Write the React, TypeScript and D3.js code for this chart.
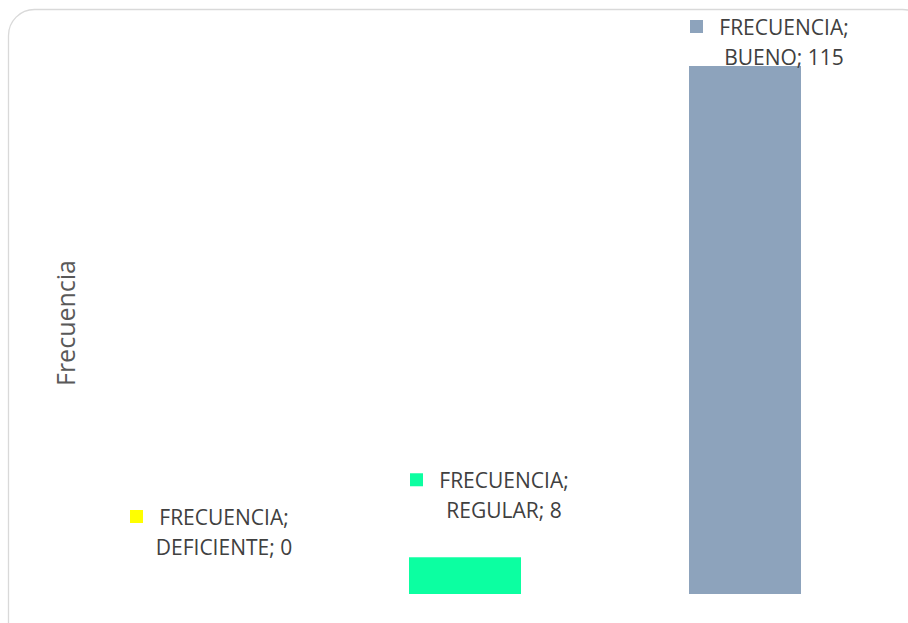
import React from "react";
import * as d3 from "d3";

const categories = ["DEFICIENTE", "REGULAR", "BUENO"];
const values = [0, 8, 115];
const seriesName = "FRECUENCIA";
const axisTitle = "Frecuencia";
const colors = ["#FFFF00", "#0CFFA1", "#8DA3BC"];

const W = 908;
const H = 623;

export default function App() {
  const x = d3.scaleBand<string>().domain(categories).range([45, 885]).paddingInner(0.6).paddingOuter(0.3);
  const y = d3.scaleLinear().domain([0, 115]).range([594, 66]);
  const font = "'Open Sans', sans-serif";
  return (
    <svg width={W} height={H} style={{ position: "absolute", left: 0, top: 0 }}>
      <rect x={0} y={0} width={W} height={H} fill="#fff" />
      <rect x={8.5} y={9.5} width={920} height={640} rx={26} ry={26} fill="#fff" stroke="#d9d9d9" strokeWidth={1.3} />
      {categories.map((c, i) => {
        const bx = x(c)!;
        const bw = x.bandwidth();
        const top = y(values[i]);
        return values[i] > 0 ? (
          <rect key={c} x={bx} y={top} width={bw} height={y(0) - top} fill={colors[i]} />
        ) : null;
      })}
      {categories.map((c, i) => {
        const cx = x(c)! + x.bandwidth() / 2;
        const b2 = Math.max(y(values[i]) - 39, 65);
        const b1 = b2 - 30;
        const tc = cx + 39;
        return (
          <g key={"l" + c}>
            <rect x={cx - 55} y={b1 - 15} width={13} height={13} fill={colors[i]} />
            <text x={tc} y={b1} textAnchor="middle" fontFamily={font} fontSize={21} fill="#404040">
              {seriesName};
            </text>
            <text x={tc} y={b2} textAnchor="middle" fontFamily={font} fontSize={21} fill="#404040">
              {c}; {values[i]}
            </text>
          </g>
        );
      })}
      <text
        transform={`translate(75,323) rotate(-90)`}
        textAnchor="middle"
        fontFamily={font}
        fontSize={25}
        fill="#595959"
      >
        {axisTitle}
      </text>
    </svg>
  );
}
